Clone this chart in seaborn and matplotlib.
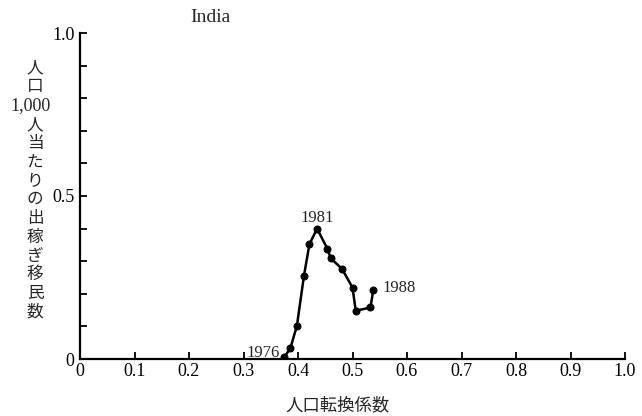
import matplotlib
matplotlib.use("Agg")
import matplotlib.pyplot as plt
import pandas as pd
import seaborn as sns

# India: population conversion coefficient vs emigrant workers per 1,000 people
years = list(range(1976, 1989))
coef = [0.375, 0.386, 0.398, 0.411, 0.421, 0.435, 0.454, 0.460, 0.481,
        0.500, 0.506, 0.533, 0.538]
migrants = [0.006, 0.033, 0.102, 0.256, 0.352, 0.400, 0.338, 0.309, 0.276,
            0.219, 0.148, 0.158, 0.211]
x_ticks = [i / 10 for i in range(11)]
x_ticklabels = ["0"] + [f"{t:.1f}" for t in x_ticks[1:]]
y_ticks = [i / 10 for i in range(11)]
y_ticklabels = ["0", "", "", "", "", "0.5", "", "", "", "", "1.0"]
ylab_lines = ["人", "口", "1,000", "人", "当", "た", "り", "の", "出",
              "稼", "ぎ", "移", "民", "数"]

df = pd.DataFrame({"year": years, "coef": coef, "migrants": migrants})

sns.set_style("ticks")
serif = ["Liberation Serif", "DejaVu Serif"]
cjk = ["Noto Sans CJK JP", "DejaVu Sans"]
plt.rcParams["font.family"] = serif

W, H = 642, 416
fig = plt.figure(figsize=(W / 100, H / 100), dpi=100)
ax = fig.add_axes([80 / W, 1 - 359 / H, 545 / W, 326 / H])

sns.lineplot(data=df, x="coef", y="migrants", sort=False, ax=ax,
             color="black", lw=1.8, marker="o", markersize=5,
             markeredgecolor="black")

# year labels at the ends and the peak
first = df.iloc[0]
ax.annotate(str(int(first.year)), (first.coef, first.migrants), xytext=(-3, 3),
            textcoords="offset points", ha="right", va="center", fontsize=12)
peak = df.loc[df.migrants.idxmax()]
ax.annotate(str(int(peak.year)), (peak.coef, peak.migrants), xytext=(0, 5),
            textcoords="offset points", ha="center", va="baseline", fontsize=12)
last = df.iloc[-1]
ax.annotate(str(int(last.year)), (last.coef, last.migrants), xytext=(7, 1.5),
            textcoords="offset points", ha="left", va="center", fontsize=12)

ax.set_xlim(0, 1.0)
ax.set_ylim(0, 1.0)
ax.set_xticks(x_ticks)
ax.set_xticklabels(x_ticklabels)
ax.set_yticks(y_ticks)
ax.set_yticklabels(y_ticklabels)
ax.tick_params(direction="in", length=5, width=1.3, labelsize=13, pad=3,
               colors="black")
ax.tick_params(axis="y", pad=4)
for s in ["top", "right"]:
    ax.spines[s].set_visible(False)
for s in ["left", "bottom"]:
    ax.spines[s].set_linewidth(1.6)
    ax.spines[s].set_color("black")
ax.set_xlabel("")
ax.set_ylabel("")
ax.grid(False)

fig.text(190 / W, 1 - 18 / H, "India", fontsize=14, ha="left", va="center")
fig.text(338 / W, 1 - 405 / H, "人口転換係数", fontsize=12.5, ha="center",
         va="center", family=cjk)

# vertical y-axis label, one character per line
for i, s in enumerate(ylab_lines):
    ypx = 68 + i * 18.8
    if s == "1,000":
        fig.text(31 / W, 1 - ypx / H, s, fontsize=13, ha="center",
                 va="center")
    else:
        fig.text(35 / W, 1 - ypx / H, s, fontsize=12, ha="center",
                 va="center", family=cjk)

fig.savefig("out.png", dpi=100)
